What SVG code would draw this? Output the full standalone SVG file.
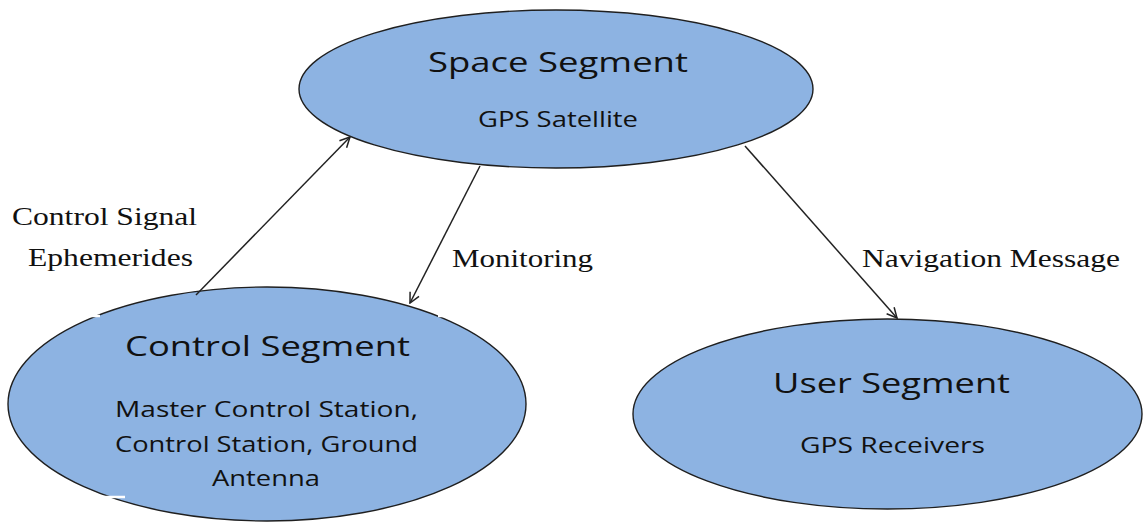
<svg xmlns="http://www.w3.org/2000/svg" width="1145" height="523" viewBox="0 0 1145 523">
  <style>
    .node { fill: #8DB3E2; stroke: #1f1f1f; stroke-width: 1.4; }
    .title { font-family: "Open Sans", "Noto Sans", sans-serif; font-size: 28px; fill: #111; }
    .sub { font-family: "Open Sans", "Noto Sans", sans-serif; font-size: 21px; fill: #111; }
    .lbl { font-family: "Liberation Serif", "Times New Roman", serif; font-size: 26px; fill: #111; }
    .conn { stroke: #222; stroke-width: 1.5; fill: none; marker-end: url(#arrow); }
    .notch { stroke: #ffffff; stroke-width: 2.5; }
  </style>
  <defs>
    <marker id="arrow" viewBox="0 0 12 12" refX="11" refY="6" markerWidth="12" markerHeight="12" markerUnits="userSpaceOnUse" orient="auto">
      <path d="M1,1 L11,6 L1,11" fill="none" stroke="#222" stroke-width="1.5"/>
    </marker>
  </defs>
  <rect width="1145" height="523" fill="#ffffff"/>

  <g id="space-segment">
    <ellipse class="node" cx="556" cy="89" rx="257" ry="79"/>
    <text class="title" x="428" y="72" textLength="260" lengthAdjust="spacingAndGlyphs">Space Segment</text>
    <text class="sub" x="478" y="127" textLength="160" lengthAdjust="spacingAndGlyphs">GPS Satellite</text>
  </g>

  <g id="control-segment">
    <ellipse class="node" cx="267" cy="404" rx="259" ry="117"/>
    <line class="notch" x1="88" y1="316" x2="100" y2="316"/>
    <line class="notch" x1="438" y1="316" x2="452" y2="316"/>
    <line class="notch" x1="93" y1="497" x2="125" y2="497"/>
    <line class="notch" x1="432" y1="497" x2="447" y2="497"/>
    <text class="title" x="125" y="356" textLength="285" lengthAdjust="spacingAndGlyphs">Control Segment</text>
    <text class="sub" x="115" y="417" textLength="303" lengthAdjust="spacingAndGlyphs">Master Control Station,</text>
    <text class="sub" x="115" y="452" textLength="303" lengthAdjust="spacingAndGlyphs">Control Station, Ground</text>
    <text class="sub" x="212" y="486" textLength="108" lengthAdjust="spacingAndGlyphs">Antenna</text>
  </g>

  <g id="user-segment">
    <ellipse class="node" cx="887.5" cy="414" rx="254.5" ry="95"/>
    <text class="title" x="773" y="393" textLength="237" lengthAdjust="spacingAndGlyphs">User Segment</text>
    <text class="sub" x="800" y="453" textLength="185" lengthAdjust="spacingAndGlyphs">GPS Receivers</text>
  </g>

  <g id="connectors">
    <line class="conn" x1="196" y1="295" x2="350" y2="137"/>
    <line class="conn" x1="480" y1="166" x2="410" y2="303"/>
    <line class="conn" x1="745" y1="146" x2="897" y2="318"/>
  </g>

  <g id="labels">
    <text class="lbl" x="12" y="225" textLength="185" lengthAdjust="spacingAndGlyphs">Control Signal</text>
    <text class="lbl" x="28" y="266" textLength="165" lengthAdjust="spacingAndGlyphs">Ephemerides</text>
    <text class="lbl" x="452" y="267" textLength="141" lengthAdjust="spacingAndGlyphs">Monitoring</text>
    <text class="lbl" x="862" y="267" textLength="258" lengthAdjust="spacingAndGlyphs">Navigation Message</text>
  </g>
</svg>
